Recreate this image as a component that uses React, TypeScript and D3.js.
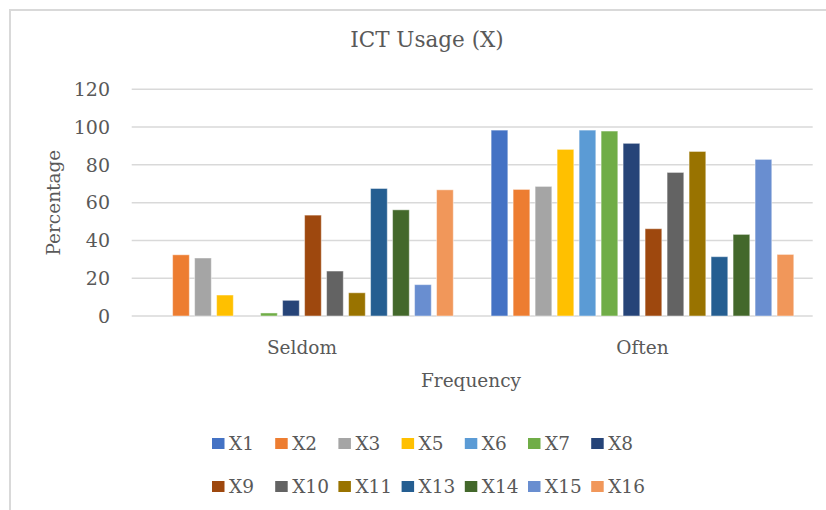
import React from 'react';
import * as d3 from 'd3';

const categories = ['Seldom', 'Often'];
const seriesNames = ['X1', 'X2', 'X3', 'X5', 'X6', 'X7', 'X8', 'X9', 'X10', 'X11', 'X13', 'X14', 'X15', 'X16'];
const seldomValues = [0, 32.4, 30.7, 11.1, 0, 1.6, 8.3, 53.4, 23.8, 12.3, 67.5, 56.2, 16.6, 66.8];
const oftenValues = [98.4, 67.0, 68.6, 88.2, 98.4, 97.9, 91.4, 46.2, 76.0, 87.1, 31.4, 43.2, 82.9, 32.6];
const seriesColors = ['#4472C4', '#ED7D31', '#A5A5A5', '#FFC000', '#5B9BD5', '#70AD47', '#264478',
  '#9E480E', '#636363', '#997300', '#255E91', '#43682B', '#698ED0', '#F1975A'];
const yTicks = [0, 20, 40, 60, 80, 100, 120];

const width = 826;
const height = 510;
const plot = { left: 131.7, right: 812.7, top: 89.3, bottom: 316 };
const font = '"DejaVu Serif", serif';
const textColor = '#595959';
const gridColor = '#d9d9d9';

const App: React.FC = () => {
  const valuesByCat = [seldomValues, oftenValues];

  const x0 = d3.scaleBand<string>()
    .domain(categories)
    .range([plot.left, plot.right])
    .padding(0);

  const x1 = d3.scaleBand<string>()
    .domain(seriesNames)
    .range([0, x0.bandwidth()])
    .paddingInner(0.24)
    .paddingOuter(0.86);

  const y = d3.scaleLinear()
    .domain([0, 120])
    .range([plot.bottom, plot.top]);

  // legend grid: 7 columns, 2 rows
  const legendCols = 7;
  const legendX = d3.scaleLinear().domain([0, 1]).range([212, 275.2]);
  const legendY = [438, 481];

  return (
    <svg width={width} height={height} style={{ position: 'absolute', left: 0, top: 0, background: '#fff' }}>
      <rect x={10} y={10} width={830} height={520} fill="#fff" stroke={gridColor} strokeWidth={2} />

      <text x={427} y={47} textAnchor="middle" fontFamily={font} fontSize={21.5} fill={textColor}>
        ICT Usage (X)
      </text>

      {/* gridlines + tick labels */}
      {yTicks.map(t => (
        <g key={t}>
          <line x1={plot.left} x2={plot.right} y1={y(t)} y2={y(t)} stroke={gridColor} strokeWidth={1.5} />
          <text x={110} y={y(t)} dy="0.36em" textAnchor="end" fontFamily={font} fontSize={19} fill={textColor}>
            {t}
          </text>
        </g>
      ))}

      {/* bars */}
      {categories.map((cat, ci) => (
        <g key={cat} transform={`translate(${x0(cat)},0)`}>
          {seriesNames.map((s, si) => {
            const v = valuesByCat[ci][si];
            if (!v) return null;
            return (
              <rect
                key={s}
                x={x1(s)}
                y={y(v)}
                width={x1.bandwidth()}
                height={y(0) - y(v)}
                fill={seriesColors[si]}
                stroke="#ffffff"
                strokeOpacity={0.45}
                strokeWidth={1}
              />
            );
          })}
          <text
            x={x0.bandwidth() / 2}
            y={354}
            textAnchor="middle"
            fontFamily={font}
            fontSize={18.5}
            fill={textColor}
          >
            {cat}
          </text>
        </g>
      ))}

      <text x={471} y={387} textAnchor="middle" fontFamily={font} fontSize={18.5} fill={textColor}>
        Frequency
      </text>
      <text
        transform={`translate(60,${(plot.top + plot.bottom) / 2}) rotate(-90)`}
        textAnchor="middle"
        fontFamily={font}
        fontSize={18.5}
        fill={textColor}
      >
        Percentage
      </text>

      {/* legend */}
      {seriesNames.map((s, i) => {
        const col = i % legendCols;
        const row = Math.floor(i / legendCols);
        const lx = legendX(col);
        const ly = legendY[row];
        return (
          <g key={s} transform={`translate(${lx},${ly})`}>
            <rect x={0} y={0} width={12.5} height={11} fill={seriesColors[i]} />
            <text x={17} y={12} fontFamily={font} fontSize={18.5} fill={textColor}>
              {s}
            </text>
          </g>
        );
      })}
    </svg>
  );
};

export default App;
